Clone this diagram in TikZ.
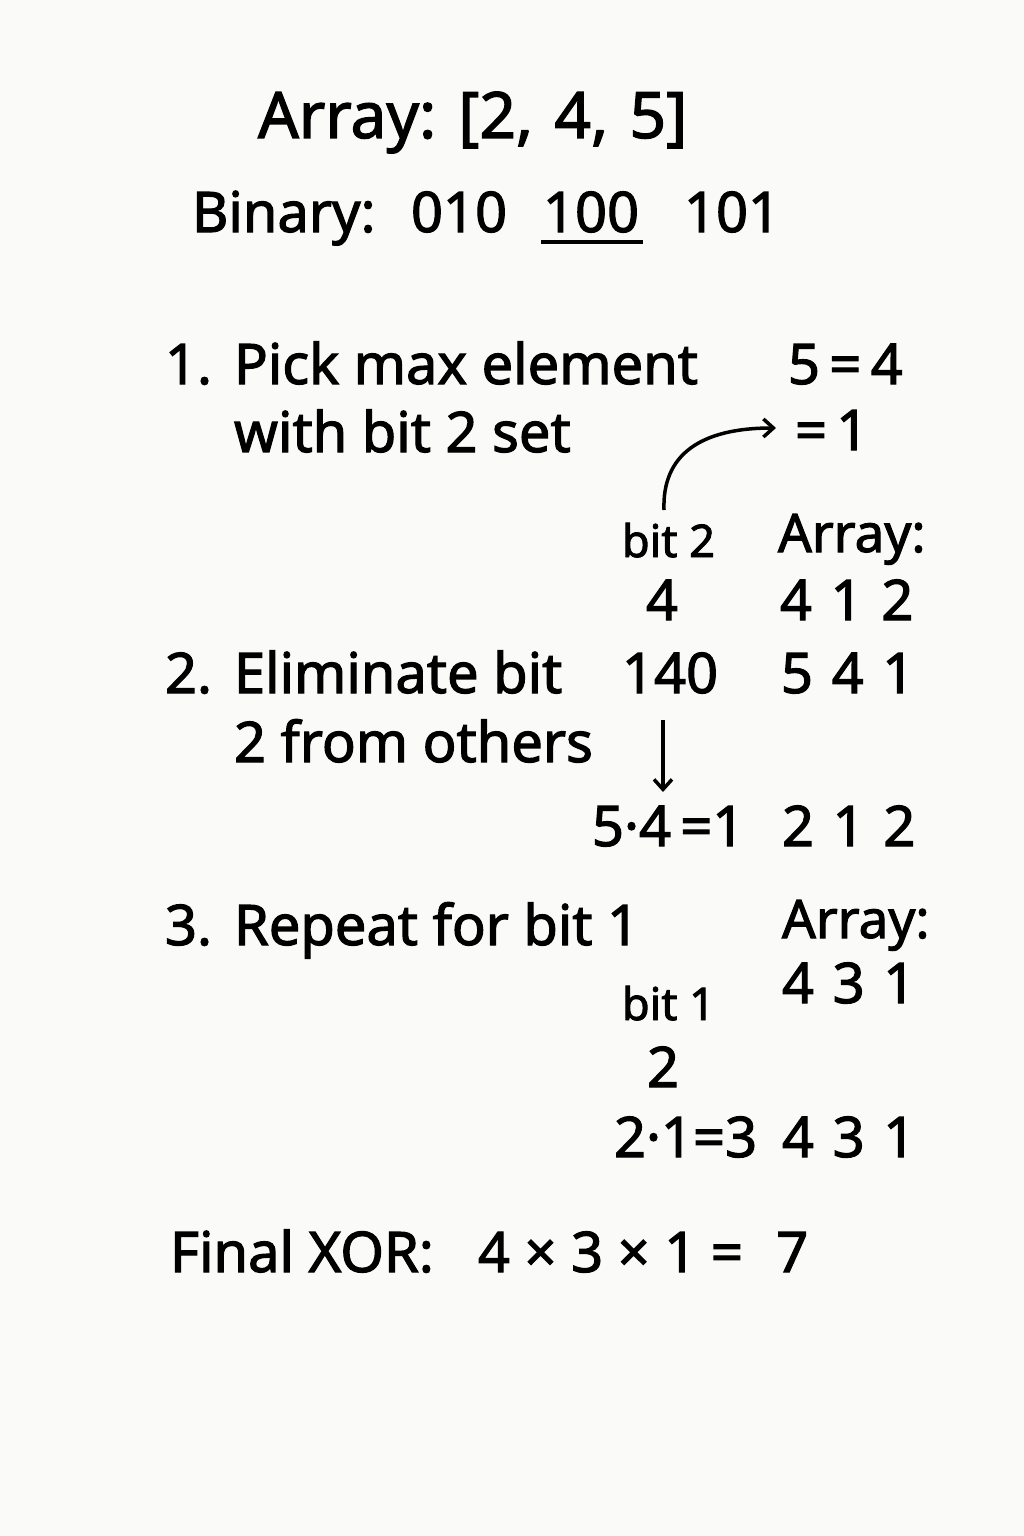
\documentclass[tikz,border=0pt]{standalone}
\usepackage{fontspec}
\usetikzlibrary{arrows.meta}
\setmainfont{Noto Sans}[FakeBold=2]
\begin{document}
\begin{tikzpicture}[x=1pt,y=-1pt,
  every node/.style={inner sep=0pt,outer sep=0pt,anchor=base west},
  big/.style={font=\fontsize{64}{70}\selectfont},
  med/.style={font=\fontsize{56}{66}\selectfont},
  arr/.style={font=\fontsize{53}{60}\selectfont},
  small/.style={font=\fontsize{45}{54}\selectfont},
  conn/.style={line width=3.5pt,-{Straight Barb[length=10pt,width=18pt]}}]
\fill[fill={rgb,255:red,250;green,250;blue,248}] (0,0) rectangle (1024,1536);
\useasboundingbox (0,0) rectangle (1024,1536);
% header
\node[big] (title) at (258,138) {Array: [2,\,\,4,\,\,5]};
\node[med] (binlab) at (192,232) {Binary:};
\node[med] (b1) at (411,232) {010};
\node[med] (b2) at (543,232) {100};
\node[med] (b3) at (684,232) {101};
\draw[line width=3.5pt] (541,242) -- (643,242);
% step 1
\node[med] (n1) at (165,384) {1.};
\node[med] (s1a) at (234,384) {Pick max element};
\node[med] (s1b) at (234,452) {with bit 2 set};
\node[med] (eqa) at (788,384) {5\,=\,4};
\node[med] (eqb) at (795,450) {=\,1};
\node[small] (bit2) at (622,557) {bit 2};
\node[med] (four) at (646,620) {4};
\node[arr] (arr1) at (778,552) {Array:};
\node[med] (r1) at (780,620) {4\,\,1\,\,2};
\coordinate (c1s) at (664,510);
\coordinate (c1e) at (776,428);
\draw[conn] (c1s) .. controls (662,455) and (700,428) .. (c1e);
% step 2
\node[med] (n2) at (165,693) {2.};
\node[med] (s2a) at (234,693) {Eliminate bit};
\node[med] (s2b) at (234,762) {2 from others};
\node[med] (v140) at (622,693) {140};
\node[med] (r2) at (781,693) {5\,\,4\,\,1};
\node[med] (x1) at (592,846) {5·4\,=1};
\node[med] (r3) at (782,846) {2\,\,1\,\,2};
\coordinate (d1s) at (663,720);
\coordinate (d1e) at (663,792);
\draw[conn] (d1s) -- (d1e);
% step 3
\node[med] (n3) at (165,945) {3.};
\node[med] (s3) at (234,945) {Repeat for bit 1};
\node[arr] (arr2) at (782,938) {Array:};
\node[med] (r4) at (782,1003) {4\,\,3\,\,1};
\node[small] (bit1) at (622,1020) {bit 1};
\node[med] (two) at (647,1087) {2};
\node[med] (x2) at (614,1157) {2·1=3};
\node[med] (r5) at (782,1157) {4\,\,3\,\,1};
% final
\node[med] (fin) at (170,1272) {Final XOR:};
\node[med] (fx) at (478,1272) {4 × 3 × 1 = \,\,7};
\end{tikzpicture}
\end{document}
